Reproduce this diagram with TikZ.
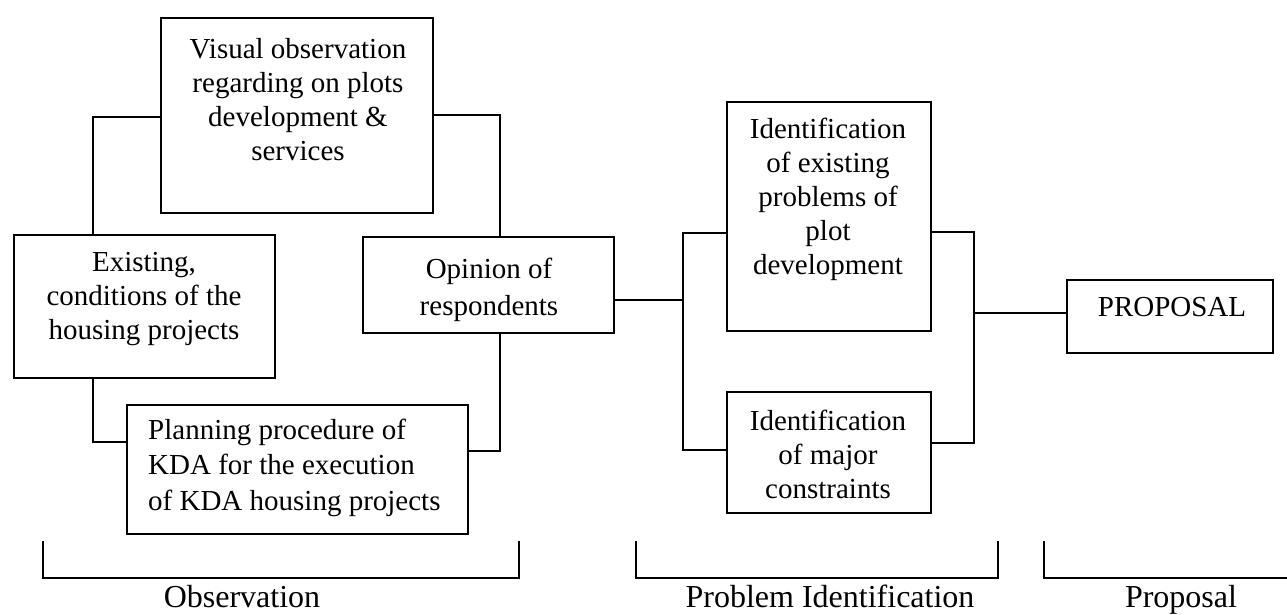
\documentclass[tikz,border=0pt]{standalone}
\usepackage{fontspec}
\setmainfont{Liberation Serif}
\begin{document}
\begin{tikzpicture}[x=1pt,y=-1pt,
  box/.style={draw,line width=2pt,rectangle,inner sep=0pt},
  boxtext/.style={inner sep=0pt,align=center,font=\fontsize{29pt}{34pt}\selectfont},
  stagetext/.style={inner sep=0pt,anchor=base,font=\fontsize{32pt}{38pt}\selectfont},
  link/.style={line width=1.5pt},
  brace/.style={line width=2.5pt}]
\useasboundingbox (0,0) rectangle (1287,615);

% Observation stage boxes
\node[box,minimum width=272pt,minimum height=195pt] (visual) at (297,115.5) {};
\node[boxtext] (visualtext) at (298,100) {Visual observation\\regarding on plots\\development \&\\services};

\node[box,minimum width=261pt,minimum height=143pt] (exist) at (144.5,306.5) {};
\node[boxtext] (existtext) at (144,299) {Existing,\\conditions of the\\housing projects};

\node[box,minimum width=251pt,minimum height=96pt] (opin) at (488.5,285) {};
\node[boxtext,font=\fontsize{29pt}{37pt}\selectfont] (opintext) at (489,290) {Opinion of\\respondents};

\node[box,minimum width=341pt,minimum height=129pt] (plan) at (297.5,469.5) {};
\node[boxtext,align=left,anchor=west,font=\fontsize{29pt}{35.5pt}\selectfont] (plantext) at (148,467.5) {Planning procedure of\\KDA for the execution\\of KDA housing projects};

% Problem identification boxes
\node[box,minimum width=204pt,minimum height=229pt] (idone) at (829,216.5) {};
\node[boxtext] (idonetext) at (828,199.5) {Identification\\of existing\\problems of\\plot\\development};

\node[box,minimum width=204pt,minimum height=121pt] (idtwo) at (829,452.5) {};
\node[boxtext] (idtwotext) at (828,454) {Identification\\of major\\constraints};

% Proposal box
\node[box,minimum width=206pt,minimum height=73pt] (prop) at (1170,316.5) {};
\node[boxtext] (proptext) at (1172,307) {PROPOSAL};

% junction points of the connectors
\coordinate (jl) at (93,117);
\coordinate (jlb) at (93,442);
\coordinate (jr) at (500,115);
\coordinate (jrb) at (500,451);
\coordinate (jm) at (683,300);
\coordinate (jmt) at (683,233);
\coordinate (jmb) at (683,450);
\coordinate (jnt) at (974,232);
\coordinate (jnm) at (974,313);
\coordinate (jnb) at (974,443);

% connectors
\draw[link] (visual.west |- jl) -- (jl) -- (exist.north -| jl);
\draw[link] (exist.south -| jlb) -- (jlb) -- (plan.west |- jlb);
\draw[link] (visual.east |- jr) -- (jr) -- (opin.north -| jr);
\draw[link] (opin.south -| jrb) -- (jrb) -- (plan.east |- jrb);
\draw[link] (opin.east |- jm) -- (jm);
\draw[link,line width=2.5pt] (idone.west |- jmt) -- (jmt) -- (jmb) -- (idtwo.west |- jmb);
\draw[link] (idone.east |- jnt) -- (jnt) -- (jnb) -- (idtwo.east |- jnb);
\draw[link] (jnm) -- (prop.west |- jnm);

% stage brackets
\draw[brace] (43,541) -- (43,578) -- (519,578) -- (519,541);
\draw[brace] (636,541) -- (636,578) -- (998,578) -- (998,541);
\draw[brace] (1044,541) -- (1044,578) -- (1290,578);

\node[stagetext] (obs) at (242,607) {Observation};
\node[stagetext] (probid) at (830,607) {Problem Identification};
\node[stagetext] (propl) at (1181,607) {Proposal};
\end{tikzpicture}
\end{document}
